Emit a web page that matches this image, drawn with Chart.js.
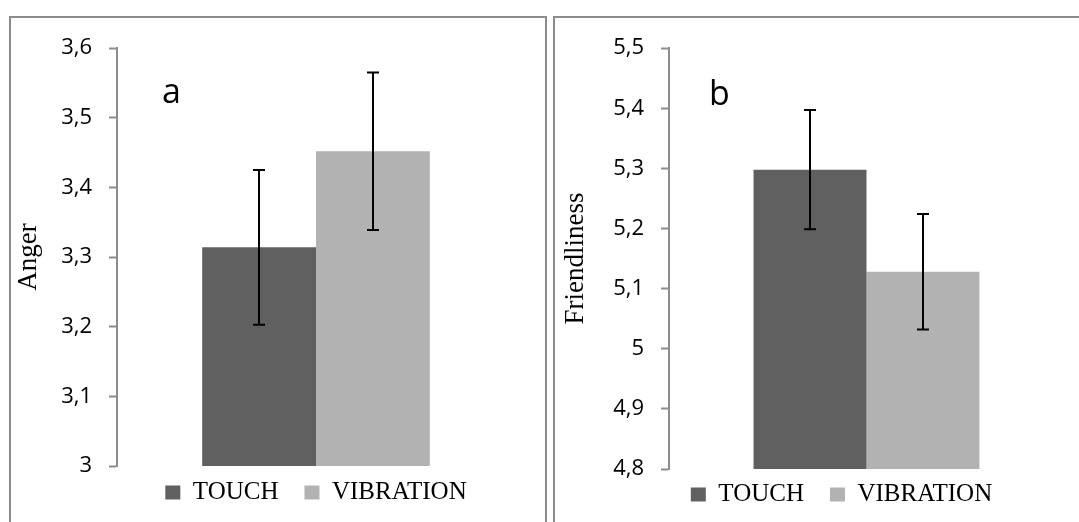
<!DOCTYPE html>
<html>
<head>
<meta charset="utf-8">
<script src="https://cdn.jsdelivr.net/npm/chart.js@4.4.1/dist/chart.umd.min.js"></script>
<style>
	body { margin: 0; background: #fff; width: 1079px; height: 522px; overflow: hidden; position: relative; }
	.panel { position: absolute; top: 16px; height: 560px; border: 2px solid #8c8c8c; box-sizing: border-box; background: #fff; }
	#panelA { left: 9px; width: 538px; }
	#panelB { left: 553px; width: 560px; }
	canvas { position: absolute; left: 0; top: 0; }
</style>
</head>
<body>
<div class="panel" id="panelA"><canvas id="angerChart" width="532" height="520"></canvas></div>
<div class="panel" id="panelB"><canvas id="friendlinessChart" width="540" height="520"></canvas></div>
<script>
// series shown in both panels
const seriesNames = ['TOUCH', 'VIBRATION'];
const seriesColors = ['#606060', '#b2b2b2'];
const categories = [''];

// panel a: anger
const angerMeans = [3.314, 3.452];
const angerErrors = [0.111, 0.113];
const angerMin = 3;
const angerMax = 3.6;

// panel b: friendliness
const friendlinessMeans = [5.298, 5.128];
const friendlinessErrors = [0.099, 0.096];
const friendlinessMin = 4.8;
const friendlinessMax = 5.5;

const tickStep = 0.1;

// comma decimal like the original (3,1 / 5,2 ...)
function commaTick(value) {
	return String(Math.round(value * 10) / 10).replace('.', ',');
}

// error bars on top of each bar
const errorBarPlugin = {
	id: 'errorBars',
	afterDatasetsDraw(chart, args, opts) {
		const ctx = chart.ctx;
		const yScale = chart.scales.y;
		ctx.save();
		ctx.strokeStyle = '#000';
		ctx.lineWidth = 2;
		chart.data.datasets.forEach(function (ds, i) {
			const bar = chart.getDatasetMeta(i).data[0];
			const mean = ds.data[0];
			const err = opts.errors[i];
			const yTop = yScale.getPixelForValue(mean + err);
			const yBottom = yScale.getPixelForValue(mean - err);
			const x = Math.round(bar.x);
			ctx.beginPath();
			ctx.moveTo(x, yTop);
			ctx.lineTo(x, yBottom);
			ctx.moveTo(x - 6, yTop);
			ctx.lineTo(x + 6, yTop);
			ctx.moveTo(x - 6, yBottom);
			ctx.lineTo(x + 6, yBottom);
			ctx.stroke();
		});
		ctx.restore();
	}
};

// panel letter (a / b) inside the plot
const panelLetterPlugin = {
	id: 'panelLetter',
	afterDraw(chart, args, opts) {
		const ctx = chart.ctx;
		ctx.save();
		ctx.font = '34px "Open Sans"';
		ctx.fillStyle = '#000';
		ctx.textBaseline = 'alphabetic';
		ctx.fillText(opts.text, chart.chartArea.left + opts.dx, chart.chartArea.top + opts.dy);
		ctx.restore();
	}
};

// move the legend a little, the original one is not exactly under the plot
const legendNudgePlugin = {
	id: 'legendNudge',
	afterLayout(chart, args, opts) {
		const legend = chart.legend;
		legend.left += opts.dx;
		legend.right += opts.dx;
		legend.top += opts.dy;
		legend.bottom += opts.dy;
	}
};

function makeChart(canvasId, settings) {
	const ctx = document.getElementById(canvasId).getContext('2d');
	return new Chart(ctx, {
		type: 'bar',
		data: {
			labels: categories,
			datasets: seriesNames.map(function (name, i) {
				return {
					label: name,
					data: [settings.means[i]],
					backgroundColor: seriesColors[i],
					borderWidth: 0,
					categoryPercentage: 0.572,
					barPercentage: 1
				};
			})
		},
		plugins: [errorBarPlugin, panelLetterPlugin, legendNudgePlugin],
		options: {
			responsive: false,
			animation: false,
			devicePixelRatio: 1,
			layout: { padding: settings.padding },
			scales: {
				x: { display: false },
				y: {
					min: settings.min,
					max: settings.max,
					afterFit: function (scale) { scale.width = settings.axisWidth; },
					ticks: {
						stepSize: tickStep,
						padding: 17,
						color: '#000',
						font: { family: '"Open Sans"', size: 22 },
						callback: commaTick
					},
					grid: {
						drawOnChartArea: false,
						tickLength: 8,
						tickWidth: 2,
						color: '#8c8c8c'
					},
					border: { display: true, color: '#8c8c8c', width: 2 },
					title: {
						display: true,
						text: settings.title,
						color: '#000',
						padding: { top: settings.titlePad, bottom: 0 },
						font: { family: '"Liberation Serif"', size: 27 }
					}
				}
			},
			plugins: {
				tooltip: { enabled: false },
				legend: {
					position: 'bottom',
					fullSize: false,
					labels: {
						color: '#000',
						boxWidth: 15,
						boxHeight: 14,
						padding: 26,
						font: { family: '"Liberation Serif"', size: 25 }
					}
				},
				errorBars: { errors: settings.errors },
				panelLetter: settings.letter,
				legendNudge: settings.nudge
			}
		}
	});
}

makeChart('angerChart', {
	means: angerMeans,
	errors: angerErrors,
	min: angerMin,
	max: angerMax,
	title: 'Anger',
	titlePad: 2,
	axisWidth: 106,
	padding: { top: 30, right: 28, bottom: 11, left: 0 },
	letter: { text: 'a', dx: 45, dy: 55 },
	nudge: { dx: 0, dy: -12 }
});

makeChart('friendlinessChart', {
	means: friendlinessMeans,
	errors: friendlinessErrors,
	min: friendlinessMin,
	max: friendlinessMax,
	title: 'Friendliness',
	titlePad: 5,
	axisWidth: 114,
	padding: { top: 25, right: 31, bottom: 8, left: 0 },
	letter: { text: 'b', dx: 40, dy: 57 },
	nudge: { dx: -25, dy: -13 }
});
</script>
</body>
</html>
